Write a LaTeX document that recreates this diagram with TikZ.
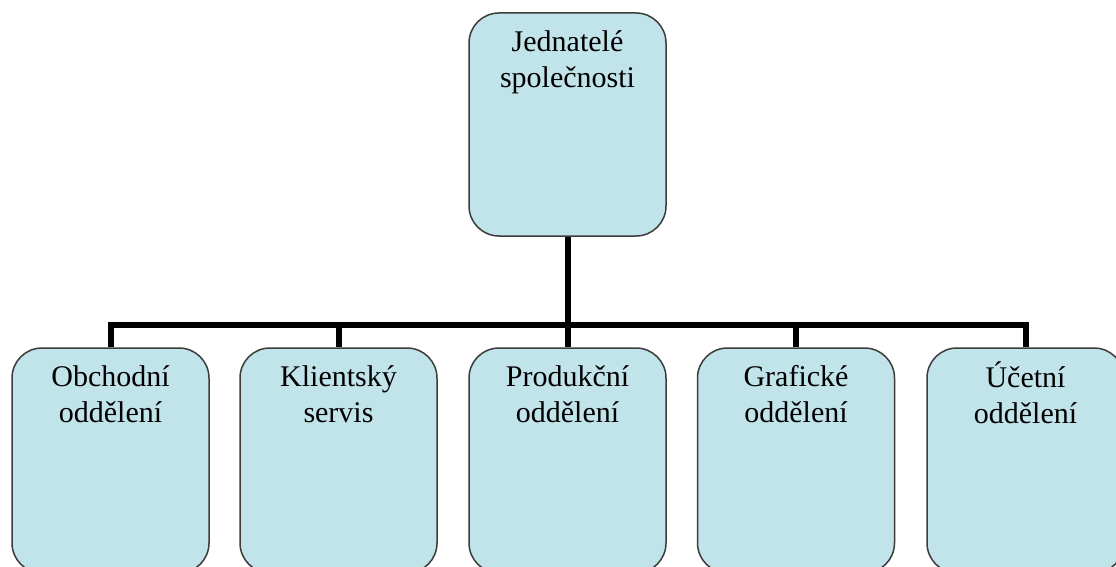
\documentclass[tikz,border=0pt]{standalone}
\usepackage{fontspec}
\setmainfont{Liberation Serif}
\usetikzlibrary{positioning}
\definecolor{boxfill}{RGB}{193,228,234}
\definecolor{boxline}{RGB}{60,60,60}
\tikzset{
  orgbox/.style={draw=boxline, line width=1.5pt, fill=boxfill, rounded corners=30pt,
    minimum width=197pt, inner sep=0pt},
  topbox/.style={orgbox, minimum height=223pt},
  lowbox/.style={orgbox, minimum height=225pt},
  lbl/.style={inner sep=0pt, align=center, font=\fontsize{30}{36}\selectfont, text=black},
  conn/.style={line width=6pt, black, line join=miter}
}
\begin{document}
\begin{tikzpicture}[x=1pt,y=-1pt]
\clip (0,0) rectangle (1116,567);
\fill[white] (0,0) rectangle (1116,567);
\node[topbox] (top) at (567.5,124.5) {};
\node[lowbox] (b1) at (110.5,460.5) {};
\node[lowbox] (b2) at (338.5,460.5) {};
\node[lowbox] (b3) at (567.5,460.5) {};
\node[lowbox] (b4) at (796,460.5) {};
\node[lowbox] (b5) at (1025.5,460.5) {};
\coordinate (bus) at (567.5,325);
\draw[conn] (top.south) -- (bus);
\foreach \b in {b1,b2,b3,b4,b5}{
  \draw[conn] (\b.north) -- (\b.north |- bus) -- (bus);
}
\node[lbl, anchor=north, below=13.8pt of top.north] (t0) {\strut Jednatelé\\\strut společnosti};
\node[lbl, anchor=north, below=13.8pt of b1.north] (t1) {\strut Obchodní\\\strut oddělení};
\node[lbl, anchor=north, below=13.8pt of b2.north] (t2) {\strut Klientský\\\strut servis};
\node[lbl, anchor=north, below=13.8pt of b3.north] (t3) {\strut Produkční\\\strut oddělení};
\node[lbl, anchor=north, below=13.8pt of b4.north] (t4) {\strut Grafické\\\strut oddělení};
\node[lbl, anchor=north, below=13.8pt of b5.north] (t5) {\strut Účetní\\\strut oddělení};
\end{tikzpicture}
\end{document}
